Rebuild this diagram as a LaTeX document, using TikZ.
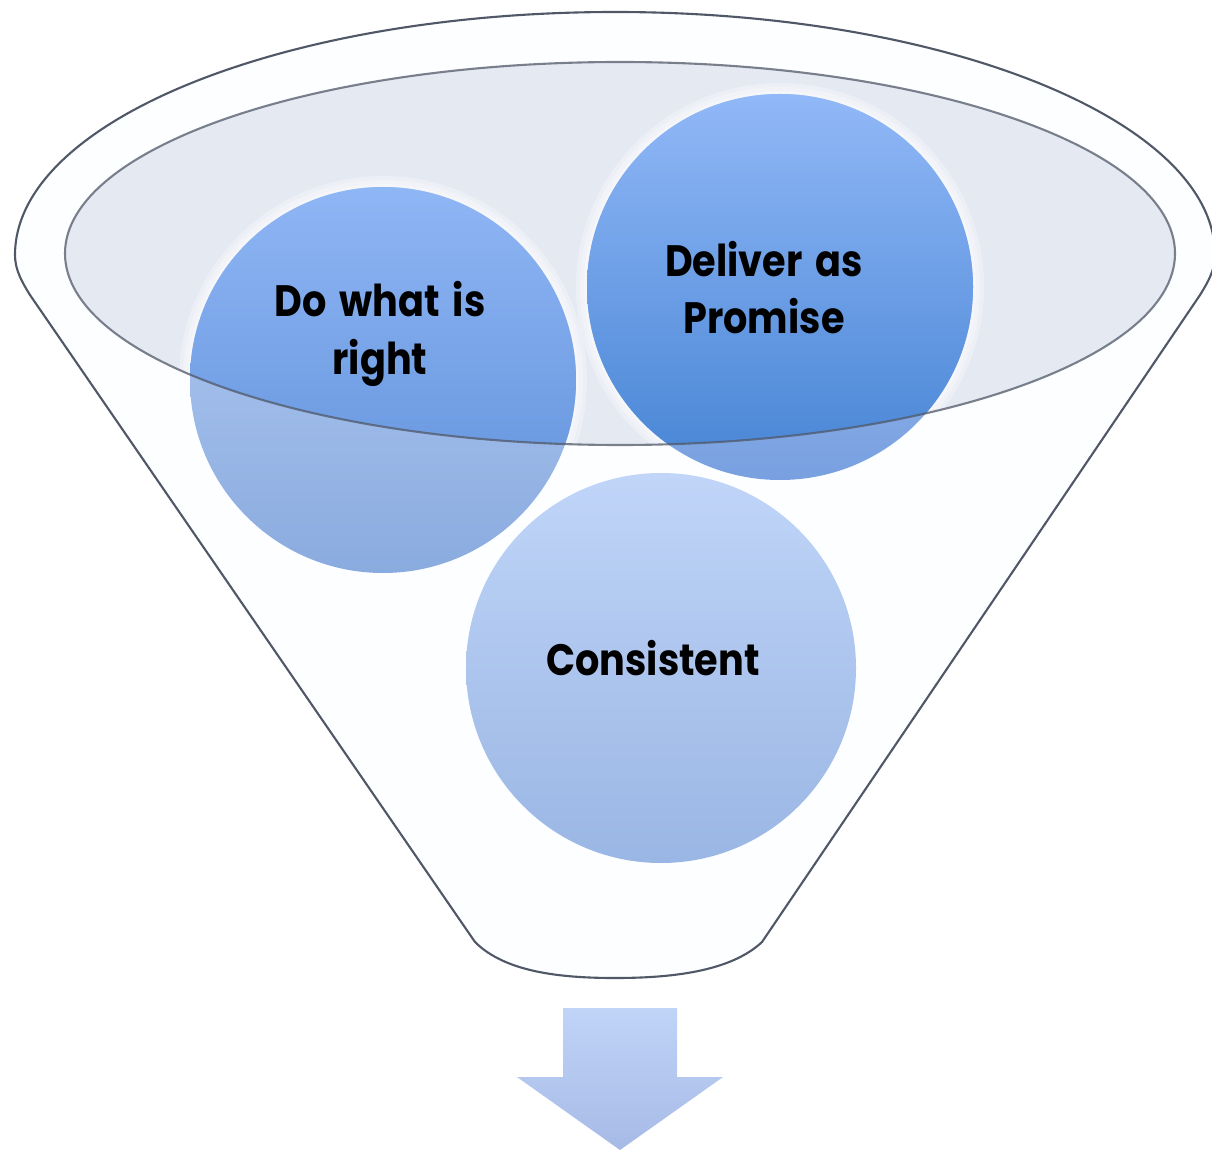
\documentclass[tikz,border=0pt]{standalone}
\usepackage{fontspec}
\newfontfamily\lblfont{Poppins}[FakeStretch=0.87, WordSpace=1.6]
\definecolor{rimline}{RGB}{80,88,104}
\definecolor{rimfill}{RGB}{228,233,242}
\definecolor{funfill}{RGB}{253,254,255}
\tikzset{
  rim/.style={draw=rimline, line width=1.2pt},
  halo/.style={fill=white, opacity=0.3},
  lbl/.style={font=\lblfont\bfseries\fontsize{25}{32.5}\selectfont, align=center, text=black},
}
\begin{document}
\begin{tikzpicture}[x=0.02cm, y=-0.02cm]
\useasboundingbox (0,0) rectangle (1212,1151);
% outer funnel
\path[rim, fill=funfill] (15,255)
  .. controls (15,121) and (284,12) .. (615,12)
  .. controls (946,12) and (1215,121) .. (1215,255)
  .. controls (1215,270) and (1208,282) .. (1200,295)
  -- (762,942)
  .. controls (730,972) and (670,978) .. (615,978)
  .. controls (560,978) and (505,972) .. (475,942)
  -- (30,295)
  .. controls (22,282) and (15,270) .. (15,255) -- cycle;
% inner rim fill
\fill[rimfill] (620,253.5) ellipse [x radius=555, y radius=191.5];
% halos
\foreach \cx/\cy in {383/380, 780/287, 661/668}{
  \fill[halo] (\cx,\cy) circle [radius=204];
  \fill[halo] (\cx,\cy) circle [radius=200];
  \fill[halo] (\cx,\cy) circle [radius=196];
}
% circles (parts outside the rim)
\path[top color={rgb,255:red,182;green,206;blue,244}, bottom color={rgb,255:red,138;green,171;blue,223}]
  (383,380) circle [radius=193];
\path[top color={rgb,255:red,176;green,202;blue,242}, bottom color={rgb,255:red,120;green,160;blue,224}]
  (780,287) circle [radius=193];
\path[top color={rgb,255:red,192;green,213;blue,248}, bottom color={rgb,255:red,154;green,182;blue,228}]
  (661,668) circle [radius=195];
% circle parts inside the rim
\begin{scope}
  \clip (620,253.5) ellipse [x radius=555, y radius=191.5];
  \path[top color={rgb,255:red,143;green,182;blue,245}, bottom color={rgb,255:red,92;green,142;blue,216}]
    (383,380) circle [radius=193];
  \path[top color={rgb,255:red,145;green,184;blue,247}, bottom color={rgb,255:red,70;green,132;blue,212}]
    (780,287) circle [radius=193];
\end{scope}
% rim outline on top
\draw[rim, draw opacity=0.75] (620,253.5) ellipse [x radius=555, y radius=191.5];
% labels
\node[lbl] (t1) at (380,334) {Do what is\\right};
\node[lbl] (t2) at (764,288) {Deliver as\\Promise};
\node[lbl] (t3) at (653,658) {Consistent};
% down arrow
\path[top color={rgb,255:red,192;green,212;blue,248}, bottom color={rgb,255:red,166;green,186;blue,230}]
  (563,1008) -- (677,1008) -- (677,1077) -- (723,1077) -- (620,1150)
  -- (517,1077) -- (563,1077) -- cycle;
\end{tikzpicture}
\end{document}
